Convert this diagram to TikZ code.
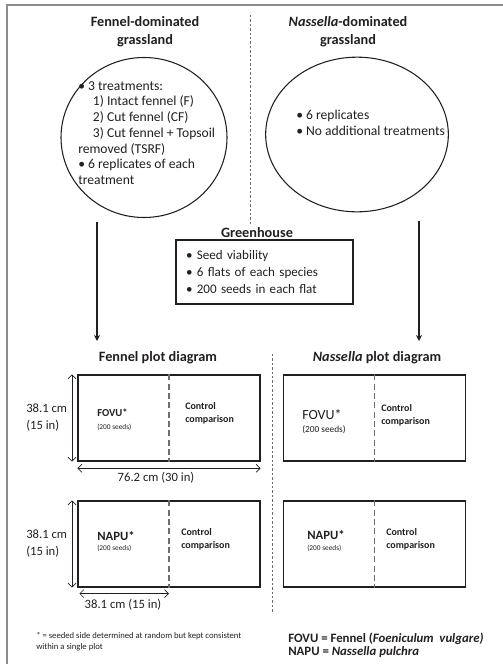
\documentclass[tikz,border=0pt]{standalone}
\usepackage{fontspec}
\setmainfont{Carlito}
\usepackage{tikz}
\usetikzlibrary{shapes.geometric, arrows.meta, positioning}
\definecolor{inkgray}{RGB}{35,31,32}
\definecolor{framegray}{RGB}{140,140,140}
\definecolor{sepgray}{RGB}{110,110,110}
\tikzset{
  area/.style={ellipse, draw=inkgray, line width=0.8pt},
  heading/.style={font=\fontsize{10.7}{13.5}\selectfont\bfseries, color=inkgray, align=center},
  bullets/.style={font=\fontsize{10.2}{11.8}\selectfont, color=inkgray, align=left, inner sep=0pt},
  plotbox/.style={rectangle, draw=inkgray, line width=0.9pt,
    minimum width=136.5pt, minimum height=64.5pt},
  divider/.style={draw=sepgray, line width=1.1pt, dash pattern=on 4.5pt off 2.5pt},
  sep/.style={draw=sepgray, line width=0.4pt, dash pattern=on 1.8pt off 1.5pt},
  flow/.style={-{Stealth[length=4.5pt, width=4.5pt]}, draw=inkgray, line width=0.8pt},
  dimarrow/.style={{Straight Barb[length=3pt]}-{Straight Barb[length=3pt]}, draw=inkgray, line width=0.5pt},
  dimlabel/.style={font=\fontsize{9.5}{12.75}\selectfont, color=inkgray, align=left, inner sep=0pt},
  species/.style={font=\fontsize{8}{9}\selectfont\bfseries, color=inkgray, inner sep=0pt},
  seeds/.style={font=\fontsize{5.5}{6}\selectfont, color=inkgray, inner sep=0pt},
  control/.style={font=\fontsize{7.5}{10}\selectfont\bfseries, color=inkgray, align=left, inner sep=0pt}
}

\begin{document}
\begin{tikzpicture}[x=0.75pt, y=-0.75pt]
  \useasboundingbox (0,0) rectangle (503,664);
  % Frame
  \draw[framegray, line width=0.9pt] (7,664) -- (7,5) -- (503,5);

  % Field sites
  \node[heading] (fentitle) at (145,32) {Fennel-dominated\\grassland};
  \node[heading] (nastitle) at (348,32) {\textit{Nassella}-dominated\\grassland};
  \draw[sep] (250,15) -- (250,225);

  \node[area, minimum width=124.5pt, minimum height=120pt] (fenarea) at (144,137.5) {};
  \node[bullets, anchor=north west] (fentext) at (78,81) {\textbullet\ 3 treatments:\\
    \hspace*{11pt}1) Intact fennel (F)\\
    \hspace*{11pt}2) Cut fennel (CF)\\
    \hspace*{11pt}3) Cut fennel + Topsoil\\
    removed (TSRF)\\
    \textbullet\ 6 replicates of each\\
    treatment};

  \node[area, minimum width=137pt, minimum height=116pt] (nasarea) at (357,134.5) {};
  \node[bullets, anchor=west] (nastext) at (296,122.5) {\textbullet\ 6 replicates\\
    \textbullet\ No additional treatments};

  % Greenhouse
  \node[heading] (ghtitle) at (257,233) {Greenhouse};
  \node[draw=inkgray, line width=0.9pt, minimum width=132.75pt, minimum height=48pt,
    text width=117.75pt, inner xsep=7.5pt, align=left, color=inkgray,
    font=\fontsize{9.8}{13.1}\selectfont] (ghbox) at (264.5,272) {\textbullet\ Seed viability\\
    \textbullet\ 6 flats of each species\\
    \textbullet\ 200 seeds in each flat};

  % Arrows to plots
  \coordinate (fenstart) at (97,222);
  \coordinate (fenend) at (97,341);
  \coordinate (nasstart) at (419,221);
  \coordinate (nasend) at (419,341);
  \draw[flow] (fenstart) -- (fenend);
  \draw[flow, line width=1.6pt] (nasstart) -- (nasend);

  % Plot diagrams
  \node[heading] (fenplot) at (158,358) {Fennel plot diagram};
  \node[heading] (nasplot) at (377,358) {\textit{Nassella} plot diagram};
  \draw[sep] (272,354) -- (272,613);

  \node[plotbox] (fp1) at (169,418) {};
  \node[plotbox] (fp2) at (169,544) {};
  \node[plotbox] (np1) at (374.5,418) {};
  \node[plotbox] (np2) at (374.5,544) {};
  \foreach \p in {fp1,fp2,np1,np2}
    \draw[divider] (\p.north) -- (\p.south);

  % Dimensions
  \draw[dimarrow] ([xshift=-4pt]fp1.north west) -- ([xshift=-4pt]fp1.south west);
  \draw[dimarrow] ([yshift=-5pt]fp1.south west) -- ([yshift=-5pt]fp1.south east);
  \draw[dimarrow] ([xshift=-4pt]fp2.north west) -- ([xshift=-4pt]fp2.south west);
  \draw[dimarrow] ([shift={(1.5pt,-4.5pt)}]fp2.south west) -- ([yshift=-4.5pt]fp2.south);
  \node[dimlabel, anchor=west] (fh1) at (26,417.5) {38.1 cm\\(15 in)};
  \node[dimlabel] (fw1) at (156,478) {76.2 cm (30 in)};
  \node[dimlabel, anchor=west] (fh2) at (26,543.5) {38.1 cm\\(15 in)};
  \node[dimlabel] (fw2) at (123,605) {38.1 cm (15 in)};

  % Plot contents
  \node[species, anchor=west] (fovu1) at (97,413) {FOVU*};
  \node[seeds, anchor=west] (seeds1) at (97,427) {(200 seeds)};
  \node[control, anchor=west] (ctl1) at (185,413.5) {Control\\comparison};

  \node[species, font=\fontsize{9.5}{10}\selectfont\bfseries, anchor=west] (napu1) at (97,536) {NAPU*};
  \node[seeds, anchor=west] (seeds2) at (97,548) {(200 seeds)};
  \node[control, anchor=west] (ctl2) at (181,539.5) {Control\\comparison};

  \node[species, font=\fontsize{10.5}{11}\selectfont, anchor=west] (fovu2) at (302,415) {FOVU*};
  \node[seeds, font=\fontsize{7}{8}\selectfont, anchor=west] (seeds3) at (302,430) {(200 seeds)};
  \node[control, anchor=west] (ctl3) at (381,415) {Control\\comparison};

  \node[species, font=\fontsize{9.5}{10}\selectfont\bfseries, anchor=west] (napu2) at (307,535) {NAPU*};
  \node[seeds, anchor=west] (seeds4) at (307,548) {(200 seeds)};
  \node[control, anchor=west] (ctl4) at (386,539.5) {Control\\comparison};

  % Notes
  \node[anchor=west, align=left, inner sep=0pt, color=inkgray,
    font=\fontsize{6.5}{8.25}\selectfont] (note) at (36,641.5) {* = seeded side determined at random but kept consistent\\within a single plot};
  \node[anchor=west, align=left, inner sep=0pt, color=inkgray,
    font=\fontsize{9.6}{9.75}\selectfont\bfseries] (legend) at (288,645.5) {FOVU = Fennel (\textit{Foeniculum\ \ vulgare)}\\NAPU = \textit{Nassella pulchra}};
\end{tikzpicture}
\end{document}
